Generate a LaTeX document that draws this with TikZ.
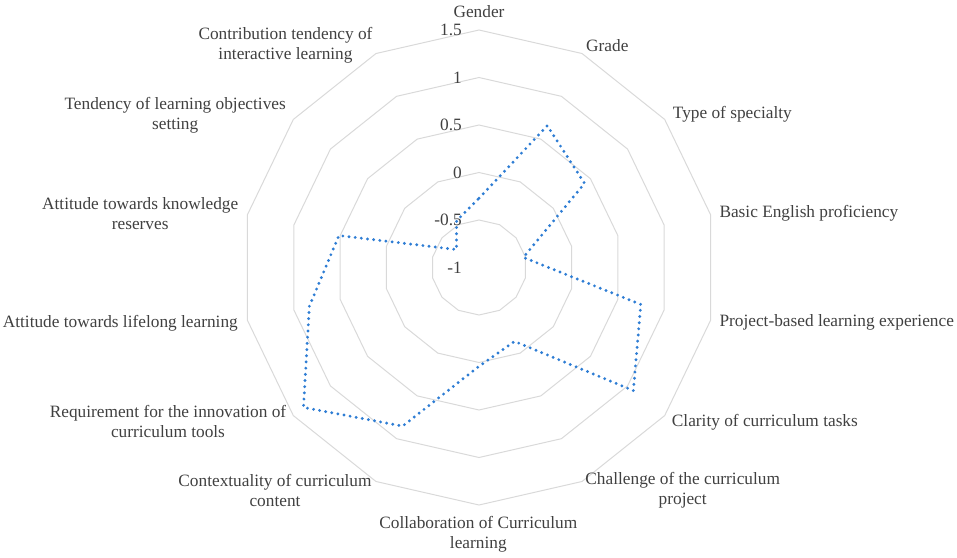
\documentclass[tikz,border=0pt]{standalone}
\usepackage{fontspec}
\setmainfont{Liberation Serif}
\definecolor{txt}{RGB}{64,64,64}
\definecolor{ringc}{RGB}{217,217,217}
\definecolor{ser}{RGB}{46,125,212}
\begin{document}
\begin{tikzpicture}[x=1pt,y=-1pt,
  lab/.style={text=txt, font=\fontsize{17.3}{20}\selectfont, inner sep=0pt, align=center},
  vlab/.style={text=txt, font=\fontsize{17.3}{20}\selectfont, inner sep=0pt, anchor=east},
  ringline/.style={draw=ringc, line width=1pt},
  dataline/.style={draw=ser, line width=3.2pt, line cap=round, dash pattern=on 0pt off 6.2pt}]
\useasboundingbox (0,0) rectangle (957,557);
\coordinate (C) at (479,267.5);
\begin{scope}[shift={(C)}]
  \foreach \r in {47.5,95,142.5,190,237.5} {
    \draw[ringline] (90:\r pt) \foreach \k in {1,...,13} { -- ({90-\k*360/14}:\r pt) } -- cycle;
  }
  \foreach \k/\r in {0/69.2,1/157.4,2/135,3/45.5,4/166,5/197.4,6/82,7/98.8,8/176,9/224.5,10/174,11/143.7,12/28.8,13/51.8}
    \coordinate (d\k) at ({90-\k*360/14}:\r pt);
\end{scope}
\draw[dataline] (d0) -- (d1) -- (d2) -- (d3) -- (d4) -- (d5) -- (d6) -- (d7) -- (d8) -- (d9) -- (d10) -- (d11) -- (d12) -- (d13) -- cycle;
% value labels
\node[vlab] (v15) at (462,30) {1.5};
\node[vlab] (v10) at (462,77.5) {1};
\node[vlab] (v05) at (462,125) {0.5};
\node[vlab] (v00) at (462,172.5) {0};
\node[vlab] (vm05) at (462,220) {-0.5};
\node[vlab] (vm10) at (462,267.5) {-1};
% axis labels
\node[lab] (l0) at (479,11.5) {Gender};
\node[lab, anchor=west] (l1) at (586,45.5) {Grade};
\node[lab, anchor=west] (l2) at (672.7,113.8) {Type of specialty};
\node[lab, anchor=west] (l3) at (719.3,212.8) {Basic English proficiency};
\node[lab, anchor=west] (l4) at (719.3,322.8) {Project-based learning experience};
\node[lab, anchor=west] (l5) at (671.7,422.2) {Clarity of curriculum tasks};
\node[lab] (l6) at (682.7,490.2) {Challenge of the curriculum\\project};
\node[lab] (l7) at (478.3,534.5) {Collaboration of Curriculum\\learning};
\node[lab] (l8) at (275,490.5) {Contextuality of curriculum\\content};
\node[lab] (l9) at (168,421.2) {Requirement for the innovation of\\curriculum tools};
\node[lab, anchor=east] (l10) at (238,322.8) {Attitude towards lifelong learning};
\node[lab] (l11) at (140.2,213.5) {Attitude towards knowledge\\reserves};
\node[lab] (l12) at (175.2,115.5) {Tendency of learning objectives\\setting};
\node[lab] (l13) at (285.5,45.5) {Contribution tendency of\\interactive learning};
\end{tikzpicture}
\end{document}
